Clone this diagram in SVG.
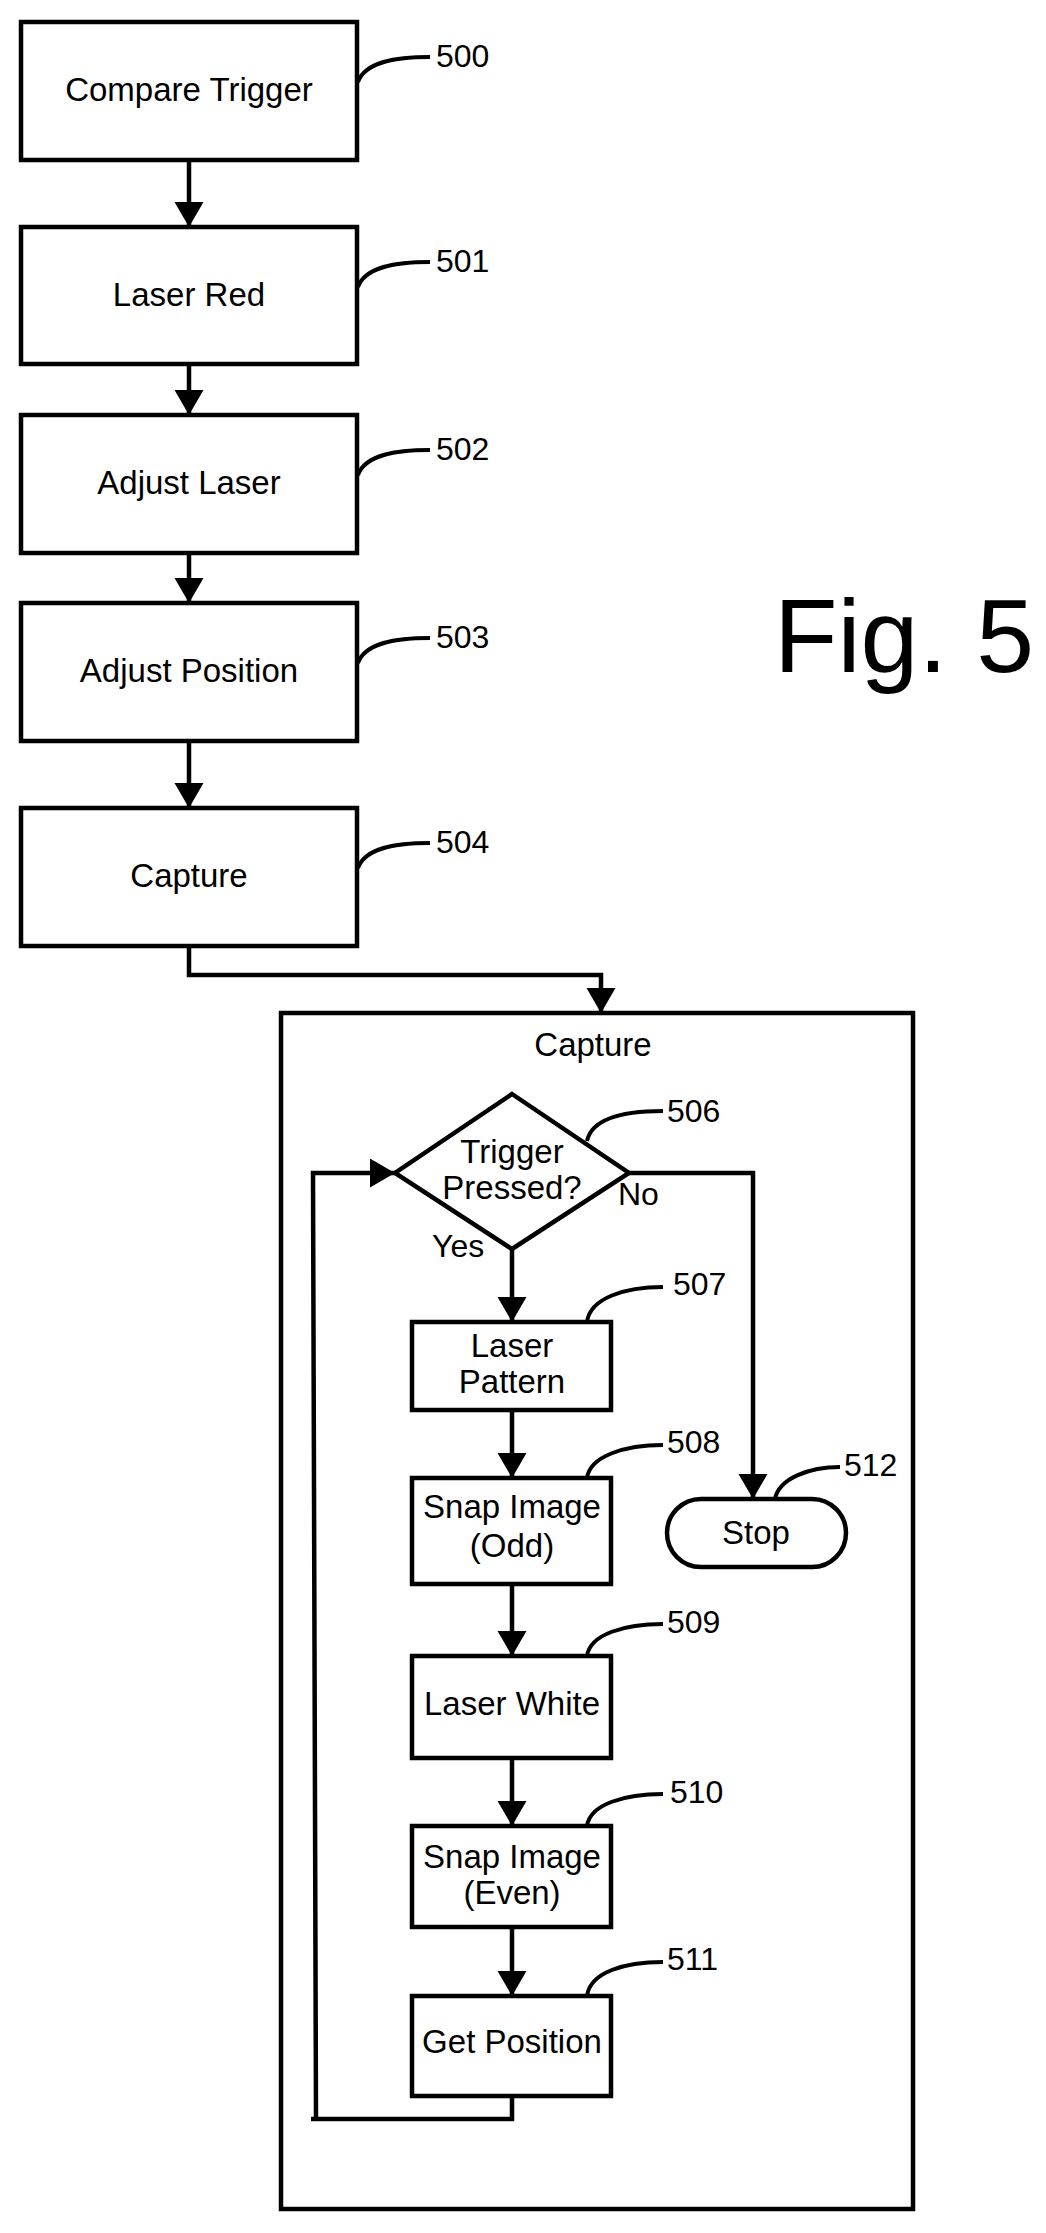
<svg xmlns="http://www.w3.org/2000/svg" width="1046" height="2233" viewBox="0 0 1046 2233">
<style>
.b{fill:#fff;stroke:#000;stroke-width:4.5}
.f{fill:none;stroke:#000;stroke-width:4.5}
.c{fill:none;stroke:#000;stroke-width:4.5}
.l{fill:none;stroke:#000;stroke-width:4}
text{font-family:"Liberation Sans",Arial,sans-serif;fill:#000}
.t{font-size:33px;text-anchor:middle}
.n{font-size:32px}
</style>
<defs>
<marker id="a" markerUnits="userSpaceOnUse" markerWidth="26" markerHeight="30" refX="25" refY="14.5" orient="auto" viewBox="0 0 26 30">
<path d="M0,0 L25,14.5 L0,29 z" fill="#000"/>
</marker>
</defs>
<rect width="1046" height="2233" fill="#fff"/>
<text x="904" y="672" font-size="104" text-anchor="middle">Fig. 5</text>
<g id="container">
<rect class="f" x="281" y="1013" width="632" height="1196"/>
<text class="t" x="593" y="1056">Capture</text>
</g>
<g id="connectors">
<path class="c" d="M189,160 V227" marker-end="url(#a)"/>
<path class="c" d="M189,364 V415" marker-end="url(#a)"/>
<path class="c" d="M189,553 V603" marker-end="url(#a)"/>
<path class="c" d="M189,741 V808" marker-end="url(#a)"/>
<path class="c" d="M189,946 V975 H601 V1013" marker-end="url(#a)"/>
<path class="c" d="M512,1249 V1322" marker-end="url(#a)"/>
<path class="c" d="M629,1173 H753 V1499" marker-end="url(#a)"/>
<path class="c" d="M512,1410 V1478" marker-end="url(#a)"/>
<path class="c" d="M512,1584 V1656" marker-end="url(#a)"/>
<path class="c" d="M512,1758 V1826" marker-end="url(#a)"/>
<path class="c" d="M512,1927 V1996" marker-end="url(#a)"/>
<path class="c" d="M512,2096 V2119 H311 M316,2119 L313,1173 H395" marker-end="url(#a)"/>
<text class="n" x="618" y="1205">No</text>
<text class="n" x="432" y="1257">Yes</text>
</g>
<g id="n500"><rect class="b" x="21" y="22" width="336" height="138"/><text class="t" x="189" y="101">Compare Trigger</text>
<path class="l" d="M358,82 C365,62 395,57 430,57"/><text class="n" x="436" y="67">500</text></g>
<g id="n501"><rect class="b" x="21" y="227" width="336" height="137"/><text class="t" x="189" y="306">Laser Red</text>
<path class="l" d="M358,287 C365,267 395,262 430,262"/><text class="n" x="436" y="272">501</text></g>
<g id="n502"><rect class="b" x="21" y="415" width="336" height="138"/><text class="t" x="189" y="494">Adjust Laser</text>
<path class="l" d="M358,475 C365,455 395,450 430,450"/><text class="n" x="436" y="460">502</text></g>
<g id="n503"><rect class="b" x="21" y="603" width="336" height="138"/><text class="t" x="189" y="682">Adjust Position</text>
<path class="l" d="M358,663 C365,643 395,638 430,638"/><text class="n" x="436" y="648">503</text></g>
<g id="n504"><rect class="b" x="21" y="808" width="336" height="138"/><text class="t" x="189" y="887">Capture</text>
<path class="l" d="M358,868 C365,848 395,843 430,843"/><text class="n" x="436" y="853">504</text></g>
<g id="n506"><polygon class="b" points="512,1094 629,1173 512,1249 395,1173"/>
<text class="t" x="512" y="1163">Trigger</text><text class="t" x="512" y="1199">Pressed?</text>
<path class="l" d="M587,1141 C592,1118 625,1111 663,1111"/><text class="n" x="667" y="1122">506</text></g>
<g id="n507"><rect class="b" x="412" y="1322" width="199" height="88"/>
<text class="t" x="512" y="1357">Laser</text><text class="t" x="512" y="1393">Pattern</text>
<path class="l" d="M587,1322 C590,1298 625,1287 663,1287"/><text class="n" x="673" y="1295">507</text></g>
<g id="n508"><rect class="b" x="412" y="1478" width="199" height="106"/>
<text class="t" x="512" y="1518">Snap Image</text><text class="t" x="512" y="1557">(Odd)</text>
<path class="l" d="M587,1478 C590,1456 625,1445 663,1445"/><text class="n" x="667" y="1453">508</text></g>
<g id="n509"><rect class="b" x="412" y="1656" width="199" height="102"/>
<text class="t" x="512" y="1715">Laser White</text>
<path class="l" d="M587,1656 C590,1634 625,1624 663,1624"/><text class="n" x="667" y="1633">509</text></g>
<g id="n510"><rect class="b" x="412" y="1826" width="199" height="101"/>
<text class="t" x="512" y="1868">Snap Image</text><text class="t" x="512" y="1904">(Even)</text>
<path class="l" d="M587,1826 C590,1804 625,1794 663,1794"/><text class="n" x="670" y="1803">510</text></g>
<g id="n511"><rect class="b" x="412" y="1996" width="199" height="100"/>
<text class="t" x="512" y="2053">Get Position</text>
<path class="l" d="M587,1996 C590,1972 625,1962 663,1962"/><text class="n" x="667" y="1970">511</text></g>
<g id="n512"><rect class="b" x="667" y="1499" width="179" height="68" rx="34"/>
<text class="t" x="756" y="1544">Stop</text>
<path class="l" d="M775,1499 C779,1478 810,1467 840,1467"/><text class="n" x="844" y="1476">512</text></g>
</svg>
